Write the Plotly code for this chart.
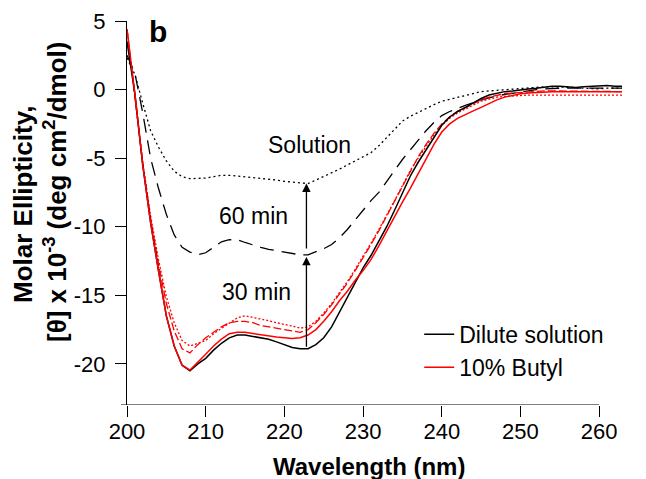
import plotly.graph_objects as go

wavelength = list(range(200, 264))

dilute_solution = [3.5, -0.3, -5.5, -9.7, -13.2, -16.5, -18.7, -20.1, -20.5, -20.0,
                   -19.6, -19.0, -18.5, -18.1, -17.9, -17.9, -18.0, -18.1, -18.2, -18.4,
                   -18.6, -18.8, -18.9, -18.9, -18.6, -18.1, -17.3, -16.2, -15.1, -14.0,
                   -13.0, -12.1, -11.1, -10.0, -8.8, -7.5, -6.3, -5.3, -4.4, -3.5,
                   -2.6, -2.0, -1.6, -1.3, -0.95, -0.65, -0.4, -0.25, -0.15, -0.1,
                   0.0, 0.05, 0.1, 0.2, 0.25, 0.25, 0.2, 0.15, 0.2, 0.25,
                   0.3, 0.3, 0.25, 0.25]

butyl_10 = [4.4, -0.3, -5.5, -9.7, -13.2, -16.5, -18.7, -20.1, -20.45, -19.9,
            -19.3, -18.7, -18.2, -17.8, -17.7, -17.7, -17.8, -17.9, -18.0, -18.05,
            -18.1, -18.15, -18.1, -17.9, -17.5, -16.9, -16.2, -15.4, -14.7, -13.9,
            -13.2, -12.4, -11.4, -10.3, -9.3, -8.2, -7.2, -6.1, -5.0, -4.0,
            -3.1, -2.5, -2.1, -1.8, -1.55, -1.3, -1.0, -0.75, -0.55, -0.4,
            -0.3, -0.25, -0.2, -0.2, -0.15, -0.15, -0.15, -0.15, -0.15, -0.15,
            -0.15, -0.15, -0.15, -0.15]

butyl_dashed = [4.4, -0.3, -5.4, -9.4, -12.7, -15.6, -17.6, -18.9, -19.2, -18.6,
                -18.1, -17.7, -17.3, -17.0, -16.9, -16.9, -17.0, -17.2, -17.3, -17.4,
                -17.5, -17.6, -17.7, -17.5, -17.0, -16.4, -15.7, -14.9, -14.1, -13.2,
                -12.3, -11.3, -10.3, -9.2, -8.1, -7.0, -5.9, -4.9, -4.0, -3.2,
                -2.5, -2.0, -1.6, -1.3, -1.0, -0.75, -0.55, -0.4, -0.3, -0.25,
                -0.2, -0.15, -0.1, -0.1, -0.1, -0.1, -0.1, -0.1, -0.1, -0.12,
                -0.15, -0.15, -0.15, -0.15]

butyl_dotted = [4.4, -0.3, -5.3, -9.2, -12.4, -15.1, -17.0, -18.3, -18.7, -18.5,
                -18.3, -17.8, -17.4, -17.0, -16.65, -16.5, -16.6, -16.75, -16.85, -17.0,
                -17.1, -17.25, -17.4, -17.3, -16.9, -16.3, -15.6, -14.8, -14.0, -13.1,
                -12.2, -11.2, -10.2, -9.2, -8.1, -7.0, -5.9, -5.0, -4.1, -3.3,
                -2.6, -2.1, -1.7, -1.4, -1.1, -0.85, -0.7, -0.55, -0.5, -0.45,
                -0.4, -0.4, -0.4, -0.4, -0.4, -0.4, -0.4, -0.4, -0.4, -0.4,
                -0.4, -0.4, -0.4, -0.4]

min_60 = [2.5, 1.2, -1.7, -5.0, -7.2, -9.1, -10.6, -11.5, -11.85, -12.05,
          -11.9, -11.5, -11.1, -10.95, -10.95, -11.15, -11.35, -11.5, -11.65, -11.75,
          -11.85, -11.95, -12.05, -12.05, -11.85, -11.6, -11.3, -10.8, -10.2, -9.5,
          -8.8, -8.1, -7.5, -6.7, -5.9, -5.1, -4.4, -3.7, -3.0, -2.4,
          -1.9, -1.6, -1.35, -1.15, -0.95, -0.75, -0.6, -0.45, -0.35, -0.25,
          -0.15, -0.1, 0.0, 0.05, 0.1, 0.1, 0.1, 0.1, 0.1, 0.1,
          0.1, 0.1, 0.1, 0.1]

solution = [2.3, 1.1, -1.0, -3.0, -4.2, -5.2, -5.95, -6.35, -6.5, -6.5,
            -6.45, -6.35, -6.25, -6.25, -6.3, -6.4, -6.45, -6.5, -6.55, -6.6,
            -6.7, -6.75, -6.85, -6.85, -6.6, -6.35, -6.1, -5.8, -5.5, -5.2,
            -4.9, -4.6, -4.1, -3.5, -2.85, -2.3, -1.95, -1.65, -1.35, -1.1,
            -0.85, -0.7, -0.55, -0.4, -0.25, -0.15, -0.1, -0.05, 0.0, 0.0,
            0.05, 0.1, 0.15, 0.2, 0.2, 0.2, 0.2, 0.15, 0.1, 0.05,
            0.05, 0.1, 0.1, 0.1]

x_ticks = [200, 210, 220, 230, 240, 250, 260]
y_ticks = [-20, -15, -10, -5, 0, 5]
y_tick_text = ["-20", "-15", "-10", "-5", "0", "5"]

FONT = "Arial, Liberation Sans, sans-serif"
RED = "rgb(255,0,0)"

fig = go.Figure()
fig.add_trace(go.Scatter(x=wavelength, y=solution, mode="lines", showlegend=False,
                         line=dict(color="black", width=1.3, dash="2px,3px")))
fig.add_trace(go.Scatter(x=wavelength, y=min_60, mode="lines", showlegend=False,
                         line=dict(color="black", width=1.3, dash="14px,8px")))
fig.add_trace(go.Scatter(x=wavelength, y=butyl_dotted, mode="lines", showlegend=False,
                         line=dict(color=RED, width=1.3, dash="2px,2px")))
fig.add_trace(go.Scatter(x=wavelength, y=butyl_dashed, mode="lines", showlegend=False,
                         line=dict(color=RED, width=1.3, dash="8px,3px")))
fig.add_trace(go.Scatter(x=wavelength, y=dilute_solution, mode="lines", name="Dilute solution",
                         line=dict(color="black", width=1.5)))
fig.add_trace(go.Scatter(x=wavelength, y=butyl_10, mode="lines", name="10% Butyl",
                         line=dict(color=RED, width=1.5)))

# page has an 8px body margin: figure is 638x471, plot area at page px 120..622 x 21..405
fig.update_layout(
    template="none",
    width=638, height=471,
    margin=dict(l=112, r=24, t=13, b=74, autoexpand=False),
    paper_bgcolor="white", plot_bgcolor="white",
    font=dict(family=FONT, size=22, color="black"),
    showlegend=True,
    legend=dict(x=0.596, y=0.24, xanchor="left", yanchor="top",
                bgcolor="rgba(0,0,0,0)", font=dict(size=23), tracegroupgap=0,
                traceorder="normal", borderwidth=0),
    xaxis=dict(range=[199.11, 262.90], tickvals=x_ticks, showgrid=False, zeroline=False,
               showline=False, ticks="outside", ticklen=11, tickwidth=1.2, tickcolor="black",
               tickfont=dict(size=22), automargin=False, ticklabelstandoff=-4),
    yaxis=dict(range=[-23, 5], tickvals=y_ticks, ticktext=y_tick_text, showgrid=False,
               zeroline=False, showline=True, linecolor="black", linewidth=1.2,
               anchor="free", position=0.012, automargin=False,
               ticks="outside", ticklen=11, tickwidth=1.2, tickcolor="black",
               tickfont=dict(size=22), ticklabelstandoff=5),
)

# bottom axis line (ends at 260)
fig.add_shape(type="line", xref="x", yref="y", x0=199.24, x1=260, y0=-23, y1=-23,
              line=dict(color="black", width=1.2))

# arrows
fig.add_annotation(x=222.8, y=-12.2, ax=222.8, ay=-18.86, xref="x", yref="y",
                   axref="x", ayref="y", text="", showarrow=True, arrowhead=2,
                   arrowsize=1.3, arrowwidth=1.3, arrowcolor="black", standoff=0)
fig.add_annotation(x=222.8, y=-6.85, ax=222.8, ay=-11.7, xref="x", yref="y",
                   axref="x", ayref="y", text="", showarrow=True, arrowhead=2,
                   arrowsize=1.3, arrowwidth=1.3, arrowcolor="black", standoff=0)

# labels
fig.add_annotation(x=223.25, y=-4.06, text="Solution", showarrow=False, font=dict(size=23))
fig.add_annotation(x=216.1, y=-9.24, text="60 min", showarrow=False, font=dict(size=23))
fig.add_annotation(x=216.4, y=-14.74, text="30 min", showarrow=False, font=dict(size=23))
fig.add_annotation(x=203.9, y=4.26, text="<b>b</b>", showarrow=False, font=dict(size=30))

# axis titles (page pixel positions converted to paper coordinates)
fig.add_annotation(xref="paper", yref="paper", x=(369 - 120) / 502, y=(405 - 466) / 384,
                   xanchor="center", yanchor="middle",
                   text="<b>Wavelength (nm)</b>", showarrow=False, font=dict(size=24))
fig.add_annotation(xref="paper", yref="paper", x=(23 - 120) / 502, y=(405 - 205) / 384,
                   xanchor="center", yanchor="middle",
                   text="<b>Molar Ellipticity,</b>", showarrow=False, textangle=-90,
                   font=dict(size=26))
fig.add_annotation(xref="paper", yref="paper", x=(55 - 120) / 502, y=(405 - 192) / 384,
                   xanchor="center", yanchor="middle",
                   text="<b>[θ] x 10<sup>-3</sup> (deg cm<sup>2</sup>/dmol)</b>",
                   showarrow=False, textangle=-90, font=dict(size=26))

fig.write_html("out.html")
